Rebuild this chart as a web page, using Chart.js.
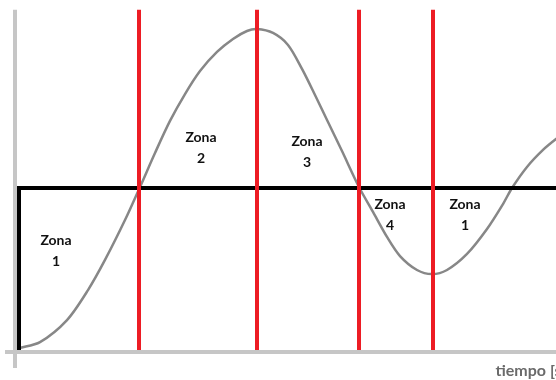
<!DOCTYPE html>
<html>
<head>
<meta charset="utf-8">
<script src="https://cdn.jsdelivr.net/npm/chart.js@4/dist/chart.umd.min.js"></script>
<style>
  html, body { margin: 0; padding: 0; background: #fff; overflow: hidden; }
  #wrap { width: 556px; height: 380px; overflow: hidden; position: relative; }
  canvas { display: block; }
</style>
</head>
<body>
<div id="wrap"><canvas id="c" width="566" height="380"></canvas></div>
<script>
// ---- Data ----
// Response curve (time t, amplitude y)
const curveT = [0, 1.05, 2.4, 3.45, 4.3, 5.3, 6.05, 6.8, 7.55, 8.3, 9.05, 9.9, 10.7, 11.4, 11.9,
  12.7, 13.45, 14.15, 14.8, 15.45, 16.15, 17.0, 17.7, 18.4, 19.05, 19.9, 20.65, 21.4,
  22.4, 23.4, 24.2, 24.65, 25.4, 26.2, 26.85, 27.35];
const curveY = [0.012, 0.049, 0.185, 0.37, 0.556, 0.802, 1.006, 1.216, 1.414, 1.58, 1.722, 1.84, 1.92, 1.969, 1.981,
  1.957, 1.883, 1.735, 1.574, 1.407, 1.228, 1.006, 0.852, 0.698, 0.58, 0.494, 0.469, 0.494,
  0.593, 0.747, 0.901, 1.0, 1.13, 1.235, 1.302, 1.346];
// Step reference
const stepT = [0, 0, 28];
const stepY = [0, 1, 1];
// Zone boundaries (red lines)
const zoneBounds = [6.0, 11.9, 17.0, 20.7];
const zoneLineTop = 2.1;
// Zone labels
const zoneLabels = [["Zona", "1"], ["Zona", "2"], ["Zona", "3"], ["Zona", "4"], ["Zona", "1"]];
const zoneLabelT = [1.85, 9.1, 14.4, 18.55, 22.3];
const zoneLabelY = [0.611, 1.25, 1.222, 0.833, 0.833];
// Axes
const xAxisTitle = "tiempo [s]";
const axisOriginT = -0.2;
const axisOriginY = -0.012;
const xMin = -0.95, xMax = 27.35, yMin = 0, yMax = 350 / 162;

// ---- Build datasets ----
const curveData = curveT.map((t, i) => ({ x: t, y: curveY[i] }));
const stepData = stepT.map((t, i) => ({ x: t, y: stepY[i] }));
const redData = [];
zoneBounds.forEach(b => { redData.push({ x: b, y: 0 }, { x: b, y: zoneLineTop }, { x: b, y: null }); });
const axisData = [
  { x: axisOriginT, y: zoneLineTop }, { x: axisOriginT, y: -0.111 }, { x: axisOriginT, y: null },
  { x: -0.7, y: axisOriginY }, { x: 28, y: axisOriginY }
];

const zoneLabelPlugin = {
  id: 'zoneLabels',
  afterDatasetsDraw(chart) {
    const { ctx, scales: { x, y } } = chart;
    ctx.save();
    ctx.font = 'bold 14px Lato, "Open Sans", sans-serif';
    ctx.fillStyle = '#111';
    ctx.textAlign = 'center';
    ctx.textBaseline = 'middle';
    zoneLabels.forEach((lines, i) => {
      const px = x.getPixelForValue(zoneLabelT[i]);
      const py = y.getPixelForValue(zoneLabelY[i]);
      const lh = 21;
      lines.forEach((ln, j) => {
        ctx.fillText(ln, px, py + (j - (lines.length - 1) / 2) * lh);
      });
    });
    ctx.restore();
  }
};

new Chart(document.getElementById('c'), {
  type: 'line',
  data: {
    datasets: [
      { data: redData, borderColor: '#ed1c24', borderWidth: 4, pointRadius: 0, spanGaps: false, clip: false, tension: 0 },
      { data: stepData, borderColor: '#000', borderWidth: 4, pointRadius: 0, clip: false, tension: 0 },
      { data: curveData, borderColor: '#878787', borderWidth: 2.5, pointRadius: 0, clip: false, tension: 0.3 },
      { data: axisData, borderColor: '#c6c6c6', borderWidth: 4, pointRadius: 0, spanGaps: false, clip: false, tension: 0 }
    ]
  },
  options: {
    responsive: false,
    animation: false,
    devicePixelRatio: 1,
    layout: { padding: 0 },
    plugins: { legend: { display: false }, tooltip: { enabled: false }, title: { display: false } },
    scales: {
      x: {
        type: 'linear', min: xMin, max: xMax,
        grid: { display: false }, border: { display: false },
        ticks: { display: false },
        title: { display: true, text: xAxisTitle, align: 'end', color: '#6a6a6a',
                 font: { family: 'Lato, "Open Sans", sans-serif', size: 16, weight: 'bold' },
                 padding: { top: 0, bottom: 0 } },
        afterFit: s => { s.height = 30; }
      },
      y: { type: 'linear', min: yMin, max: yMax, display: false }
    }
  },
  plugins: [zoneLabelPlugin]
});
</script>
</body>
</html>
